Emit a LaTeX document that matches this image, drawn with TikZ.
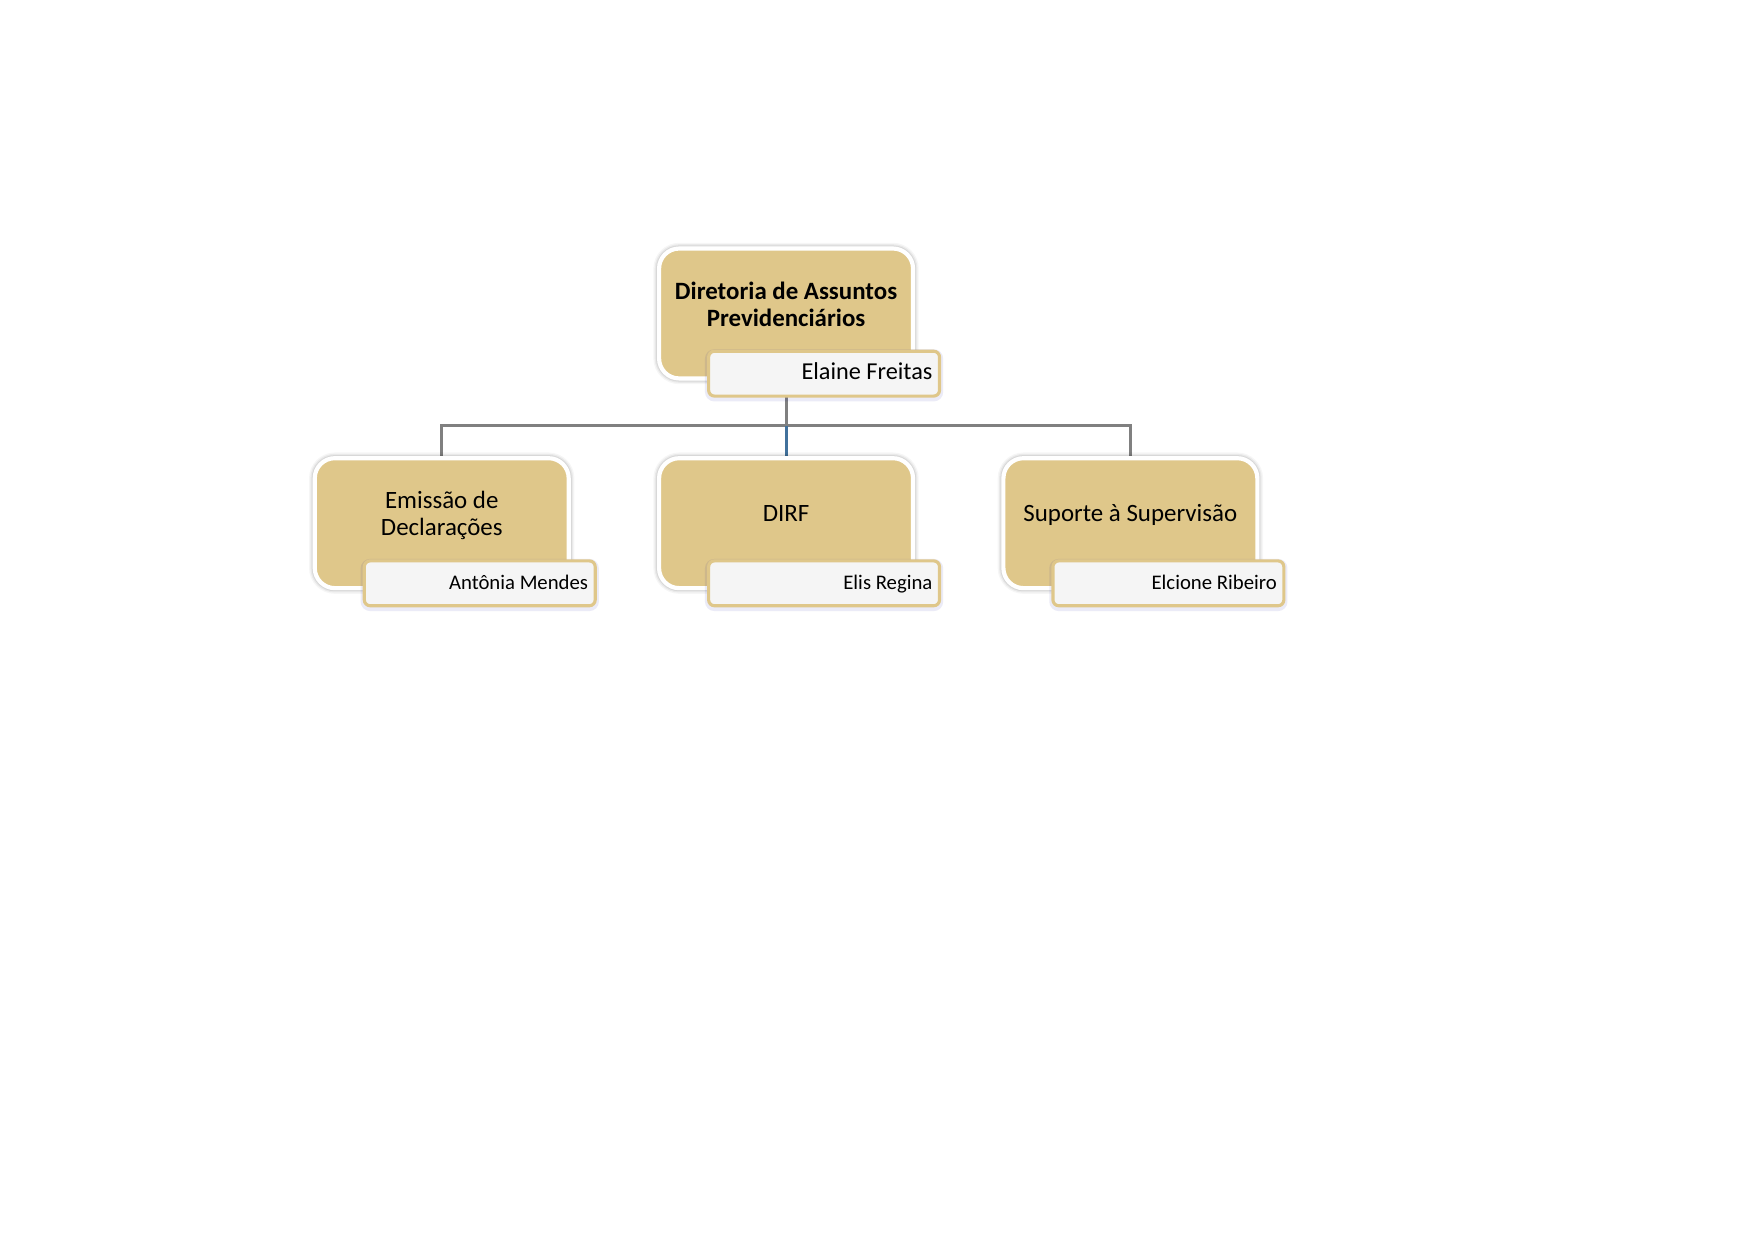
\documentclass[tikz,border=0pt]{standalone}
\usepackage{fontspec}
\setmainfont{Carlito}
\usetikzlibrary{positioning, backgrounds}
\definecolor{unittan}{RGB}{223,199,138}
\definecolor{namefill}{RGB}{245,245,245}
\definecolor{linkgray}{RGB}{128,128,128}
\definecolor{linkblue}{RGB}{65,113,156}
\tikzset{
node distance = 1.28cm and 1.46cm,
halo/.style={
	preaction={draw=black, draw opacity=0.035, line width=#1+3.5pt},
	preaction={draw=black, draw opacity=0.05, line width=#1+2.2pt},
	preaction={draw=black, draw opacity=0.07, line width=#1+1pt},
},
unit/.style={
	halo=2pt,
	draw=white,
	line width=2pt,
	rounded corners=0.34cm,
	fill=unittan,
	minimum width=4.30cm,
	minimum height=2.20cm,
},
unittext/.style={
	align=center,
	font=\fontsize{12}{13.4}\selectfont,
},
oneline/.style={
	text height=0.72em,
	text depth=0.22em,
},
namebox/.style={
	preaction={draw=black!40!blue, draw opacity=0.08, line width=3.5pt, transform canvas={yshift=-0.8pt}},
	draw=unittan,
	line width=1.5pt,
	rounded corners=0.1cm,
	fill=namefill,
	text width=3.67cm,
	align=flush right,
	inner xsep=0.12cm,
	minimum height=0.76cm,
	text height=0.8em,
	text depth=0.2em,
	font=\fontsize{10}{12}\selectfont,
},
link/.style={
	draw=linkgray,
	line width=1.5pt,
}
}

\begin{document}
\begin{tikzpicture}
		\useasboundingbox (0,0) rectangle (29.7,-21);
		% Diretoria
		\node[unit] (dap) at (13.31,-5.308) {};
		\node[unittext, font=\bfseries\fontsize{12}{12.9}\selectfont] (dap-text)
			at ([yshift=0.16cm]dap.center) {Diretoria de Assuntos\\Previdenciários};
		\node[namebox, anchor=south east, font=\fontsize{11.7}{13}\selectfont] (dap-name)
			at ([xshift=0.44cm, yshift=-0.29cm]dap.south east) {Elaine Freitas};
		
		% Setores
		\node[unit, below = of dap] (dirf) {};
		\node[unit, left = of dirf] (emissao) {};
		\node[unit, right = of dirf] (suporte) {};
		
		% Textos
		\node[unittext] (emissao-text) at ([yshift=0.13cm]emissao.center) {Emissão de\\Declarações};
		\node[unittext, oneline] (dirf-text) at ([yshift=0.12cm]dirf.center) {DIRF};
		\node[unittext, oneline] (suporte-text) at ([yshift=0.12cm]suporte.center) {Suporte à Supervisão};
		
		% Nomes
		\node[namebox, anchor=south east] (emissao-name)
			at ([xshift=0.44cm, yshift=-0.29cm]emissao.south east) {Antônia Mendes};
		\node[namebox, anchor=south east] (dirf-name)
			at ([xshift=0.44cm, yshift=-0.29cm]dirf.south east) {Elis Regina};
		\node[namebox, anchor=south east] (suporte-name)
			at ([xshift=0.44cm, yshift=-0.29cm]suporte.south east) {Elcione Ribeiro};
		
		% Connections
		\begin{scope}[on background layer]
			\fill[white] (0,0) rectangle (29.7,-21);
			\draw[link] (dap.south) -- ++(0,-0.762) coordinate (bar);
			\draw[link] (bar) -| (emissao.north);
			\draw[link] (bar) -| (suporte.north);
			\draw[link, draw=linkblue] (bar) -- (dirf.north);
		\end{scope}
	\end{tikzpicture}
\end{document}
